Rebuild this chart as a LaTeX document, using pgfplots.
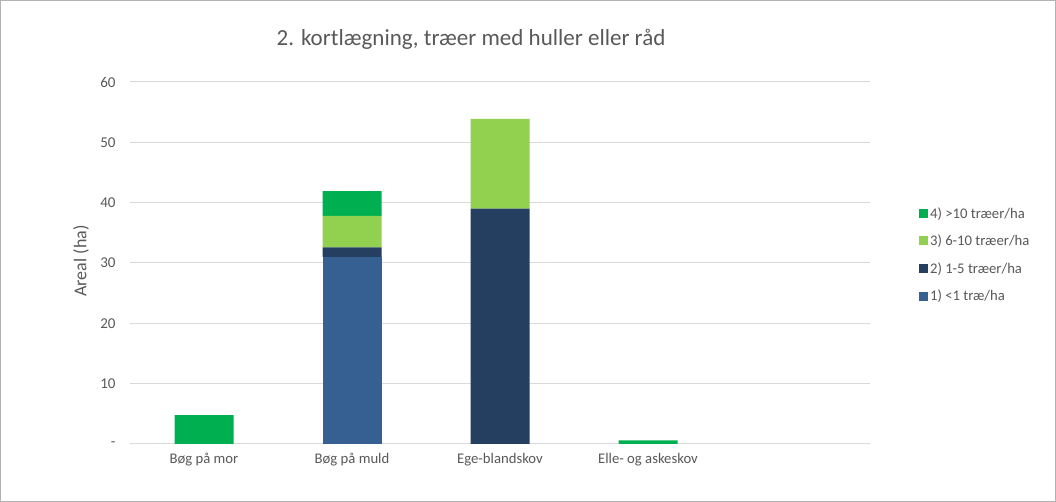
\documentclass[border=0pt]{standalone}
\usepackage{fontspec}
\setmainfont{Carlito}
\usepackage{pgfplots}
\pgfplotsset{compat=1.18}
\definecolor{c4}{HTML}{00B050}
\definecolor{c3}{HTML}{92D050}
\definecolor{c2}{HTML}{243F60}
\definecolor{c1}{HTML}{366092}
\definecolor{txt}{HTML}{595959}
\definecolor{gridc}{HTML}{D9D9D9}
\begin{document}
\begin{tikzpicture}[x=1pt,y=1pt]
\draw[fill=white, draw=gray!60, line width=1pt] (0.5,0.5) rectangle (1055.5,501.5);
\node[text=txt, font=\fontsize{23}{27}\selectfont] at (471,463) {2. kortlægning, træer med huller eller råd};
\node[text=txt, font=\fontsize{18}{21}\selectfont, rotate=90] at (81,241) {Areal (ha)};
\begin{axis}[
  at={(130pt,58pt)}, anchor=south west, scale only axis,
  width=740pt, height=362pt,
  xmin=-0.5, xmax=4.5, ymin=0, ymax=60,
  ybar stacked, bar width=59pt,
  xtick={0,1,2,3},
  xticklabels={Bøg på mor, Bøg på muld, Ege-blandskov, Elle- og askeskov},
  ytick={0,10,20,30,40,50,60},
  yticklabels={-,10,20,30,40,50,60},
  /pgf/number format/assume math mode=true,
  tick label style={text=txt},
  xticklabel style={yshift=-6pt, font=\fontsize{14.7}{17}\selectfont},
  yticklabel style={xshift=-11pt, font=\fontsize{15}{17}\selectfont},
  major tick length=0pt,
  axis x line*=bottom, axis y line*=left,
  x axis line style={draw=gridc, line width=1pt},
  y axis line style={draw=none},
  ymajorgrids, grid style={draw=gridc, line width=1pt},
  legend style={at={(1.066,0.66)}, anchor=north west, draw=none, fill=none,
    font=\fontsize{14.7}{17}\selectfont, text=txt, row sep=11.3pt,
    inner sep=0pt},
  legend cell align=left,
  reverse legend,
  legend image code/.code={\fill[#1] (0pt,-4.5pt) rectangle (9pt,4.5pt);},
  every axis plot/.append style={draw=none},
]
\addplot[fill=c1] coordinates {(0,0) (1,31.0) (2,0) (3,0)};
\addlegendentry{1) <1 træ/ha}
\addplot[fill=c2] coordinates {(0,0) (1,1.6) (2,39.0) (3,0)};
\addlegendentry{2) 1-5 træer/ha}
\addplot[fill=c3] coordinates {(0,0) (1,5.2) (2,14.9) (3,0)};
\addlegendentry{3) 6-10 træer/ha}
\addplot[fill=c4] coordinates {(0,4.8) (1,4.1) (2,0) (3,0.6)};
\addlegendentry{4) >10 træer/ha}
\end{axis}
\end{tikzpicture}
\end{document}
